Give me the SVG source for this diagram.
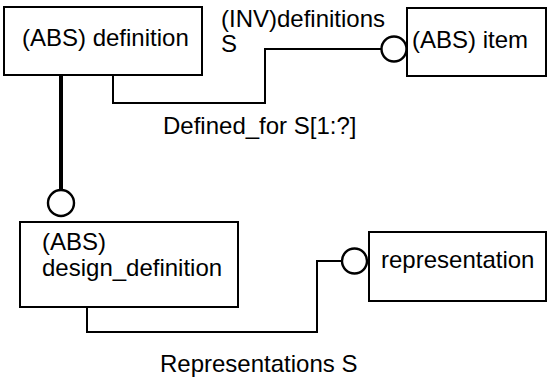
<svg xmlns="http://www.w3.org/2000/svg" width="550" height="378" viewBox="0 0 550 378">
  <style>
    .box { fill: #fff; stroke: #000; stroke-width: 2; }
    .lbl { font-family: "Liberation Sans", Arial, sans-serif; font-size: 24px; fill: #000; }
    .rel { fill: none; stroke: #000; stroke-width: 2; }
    .sub { fill: none; stroke: #000; stroke-width: 4; }
    .ring { fill: #fff; stroke: #000; stroke-width: 2.4; }
  </style>
  <rect width="550" height="378" fill="#fff"/>

  <g id="connectors">
    <!-- definition -> item -->
    <polyline class="rel" points="113,75 113,103 265,103 265,49 381,49"/>
    <circle class="ring" cx="394" cy="49" r="12.5"/>
    <!-- definition -> design_definition (subtype) -->
    <line class="sub" x1="61" y1="75" x2="61" y2="190"/>
    <circle class="ring" cx="61" cy="203" r="13"/>
    <!-- design_definition -> representation -->
    <polyline class="rel" points="87,307 87,332 317,332 317,261 342,261"/>
    <circle class="ring" cx="354.5" cy="261" r="12.5"/>
  </g>

  <g id="labels">
    <text class="lbl" x="221" y="27" font-size="23">(INV)definitions</text>
    <text class="lbl" x="221" y="52">S</text>
    <text class="lbl" x="163" y="134">Defined_for S[1:?]</text>
    <text class="lbl" x="160" y="372">Representations S</text>
  </g>

  <g id="definition">
    <rect class="box" x="4" y="7" width="198" height="68"/>
    <text class="lbl" x="22" y="46">(ABS) definition</text>
  </g>

  <g id="item">
    <rect class="box" x="407" y="8" width="139" height="68"/>
    <text class="lbl" x="412" y="48">(ABS) item</text>
  </g>

  <g id="design_definition">
    <rect class="box" x="20" y="222" width="218" height="85"/>
    <text class="lbl" x="42" y="250">(ABS)</text>
    <text class="lbl" x="42" y="276">design_definition</text>
  </g>

  <g id="representation">
    <rect class="box" x="369" y="232" width="177" height="69"/>
    <text class="lbl" x="381" y="268">representation</text>
  </g>
</svg>
